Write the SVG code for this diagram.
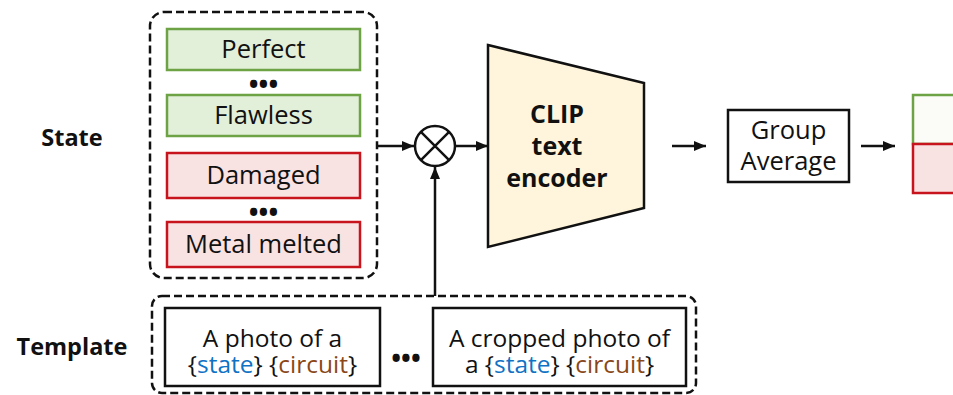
<svg xmlns="http://www.w3.org/2000/svg" width="953" height="395" viewBox="0 0 953 395">
  <defs>
    <marker id="arrow" viewBox="0 0 12 10" refX="12" refY="5" markerWidth="12" markerHeight="10" markerUnits="userSpaceOnUse" orient="auto">
      <path d="M0,0 L12,5 L0,10 Z" fill="#111"/>
    </marker>
    <style>
      text { font-family: "Open Sans", "Noto Sans", "Liberation Sans", sans-serif; fill: #111; text-anchor: middle; }
      .lbl { font-size: 25.5px; }
      .tpl { font-size: 24.5px; }
      .enc { font-size: 25px; font-weight: bold; }
      .side { font-size: 23.5px; font-weight: bold; }
      .dash { fill: none; stroke: #111; stroke-width: 2.5; stroke-dasharray: 8 4; }
      .good { fill: #e2efd9; stroke: #6ea345; stroke-width: 2.5; }
      .bad { fill: #f9e2e2; stroke: #c8141c; stroke-width: 2.5; }
      .plain { fill: #fff; stroke: #111; stroke-width: 2.5; }
      .edge { fill: none; stroke: #111; stroke-width: 2.5; marker-end: url(#arrow); }
      .st { fill: #0f72c4; }
      .ci { fill: #8a4718; }
      .dots { font-size: 26px; font-weight: bold; }
    </style>
  </defs>

  <rect width="953" height="395" fill="#fff"/>

  <!-- side labels -->
  <text class="side" x="72" y="146">State</text>
  <text class="side" x="72" y="355">Template</text>

  <!-- state prompts -->
  <g id="state-group">
    <rect class="dash" x="150" y="12" width="227" height="266" rx="14"/>
    <g id="state-perfect">
      <rect class="good" x="167" y="29" width="193" height="41"/>
      <text class="lbl" x="263.5" y="58">Perfect</text>
    </g>
    <text class="dots" x="263.5" y="94">•••</text>
    <g id="state-flawless">
      <rect class="good" x="167" y="95" width="193" height="41"/>
      <text class="lbl" x="263.5" y="124">Flawless</text>
    </g>
    <g id="state-damaged">
      <rect class="bad" x="167" y="153" width="193" height="45"/>
      <text class="lbl" x="263.5" y="184">Damaged</text>
    </g>
    <text class="dots" x="263.5" y="222">•••</text>
    <g id="state-melted">
      <rect class="bad" x="167" y="222" width="193" height="45"/>
      <text class="lbl" x="263.5" y="253">Metal melted</text>
    </g>
  </g>

  <!-- template prompts -->
  <g id="template-group">
    <rect class="dash" x="152" y="296" width="544" height="97" rx="10"/>
    <g id="template-photo">
      <rect class="plain" x="165" y="308" width="215" height="78"/>
      <text class="tpl" x="272.5" y="347">A photo of a</text>
      <text class="tpl" x="272.5" y="373">{<tspan class="st">state</tspan>} {<tspan class="ci">circuit</tspan>}</text>
    </g>
    <text class="dots" x="406" y="368">•••</text>
    <g id="template-cropped">
      <rect class="plain" x="433" y="308" width="253" height="78"/>
      <text class="tpl" x="559.5" y="347">A cropped photo of</text>
      <text class="tpl" x="559.5" y="373">a {<tspan class="st">state</tspan>} {<tspan class="ci">circuit</tspan>}</text>
    </g>
  </g>

  <!-- combine operator -->
  <g id="combine">
    <circle cx="435" cy="146" r="20" fill="#fff" stroke="#111" stroke-width="2.5"/>
    <path d="M420.9,131.9 L449.1,160.1 M449.1,131.9 L420.9,160.1" stroke="#111" stroke-width="2.5"/>
  </g>

  <!-- text encoder -->
  <g id="clip-encoder">
    <polygon points="488,45 644,83 644,208 488,247" fill="#fff5dc" stroke="#111" stroke-width="2.5" stroke-linejoin="miter"/>
    <text class="enc" x="557" y="123">CLIP</text>
    <text class="enc" x="557" y="155">text</text>
    <text class="enc" x="557" y="187">encoder</text>
  </g>

  <!-- averaging -->
  <g id="group-average">
    <rect class="plain" x="728" y="110" width="121" height="72"/>
    <text class="lbl" x="788.5" y="139">Group</text>
    <text class="lbl" x="788.5" y="170">Average</text>
  </g>

  <!-- output embeddings -->
  <g id="output">
    <rect x="913" y="95" width="60" height="49" fill="#fbfbf7" stroke="#6ea345" stroke-width="2.5"/>
    <rect x="913" y="144" width="60" height="49" fill="#f9e2e2" stroke="#c8141c" stroke-width="2.5"/>
  </g>

  <!-- connectors -->
  <g id="connectors">
    <line class="edge" x1="377" y1="146" x2="414" y2="146"/>
    <line class="edge" x1="455" y1="146" x2="488" y2="146"/>
    <line class="edge" x1="435" y1="296" x2="435" y2="167"/>
    <line class="edge" x1="672" y1="146" x2="706" y2="146"/>
    <line class="edge" x1="861" y1="146" x2="895" y2="146"/>
  </g>
</svg>
